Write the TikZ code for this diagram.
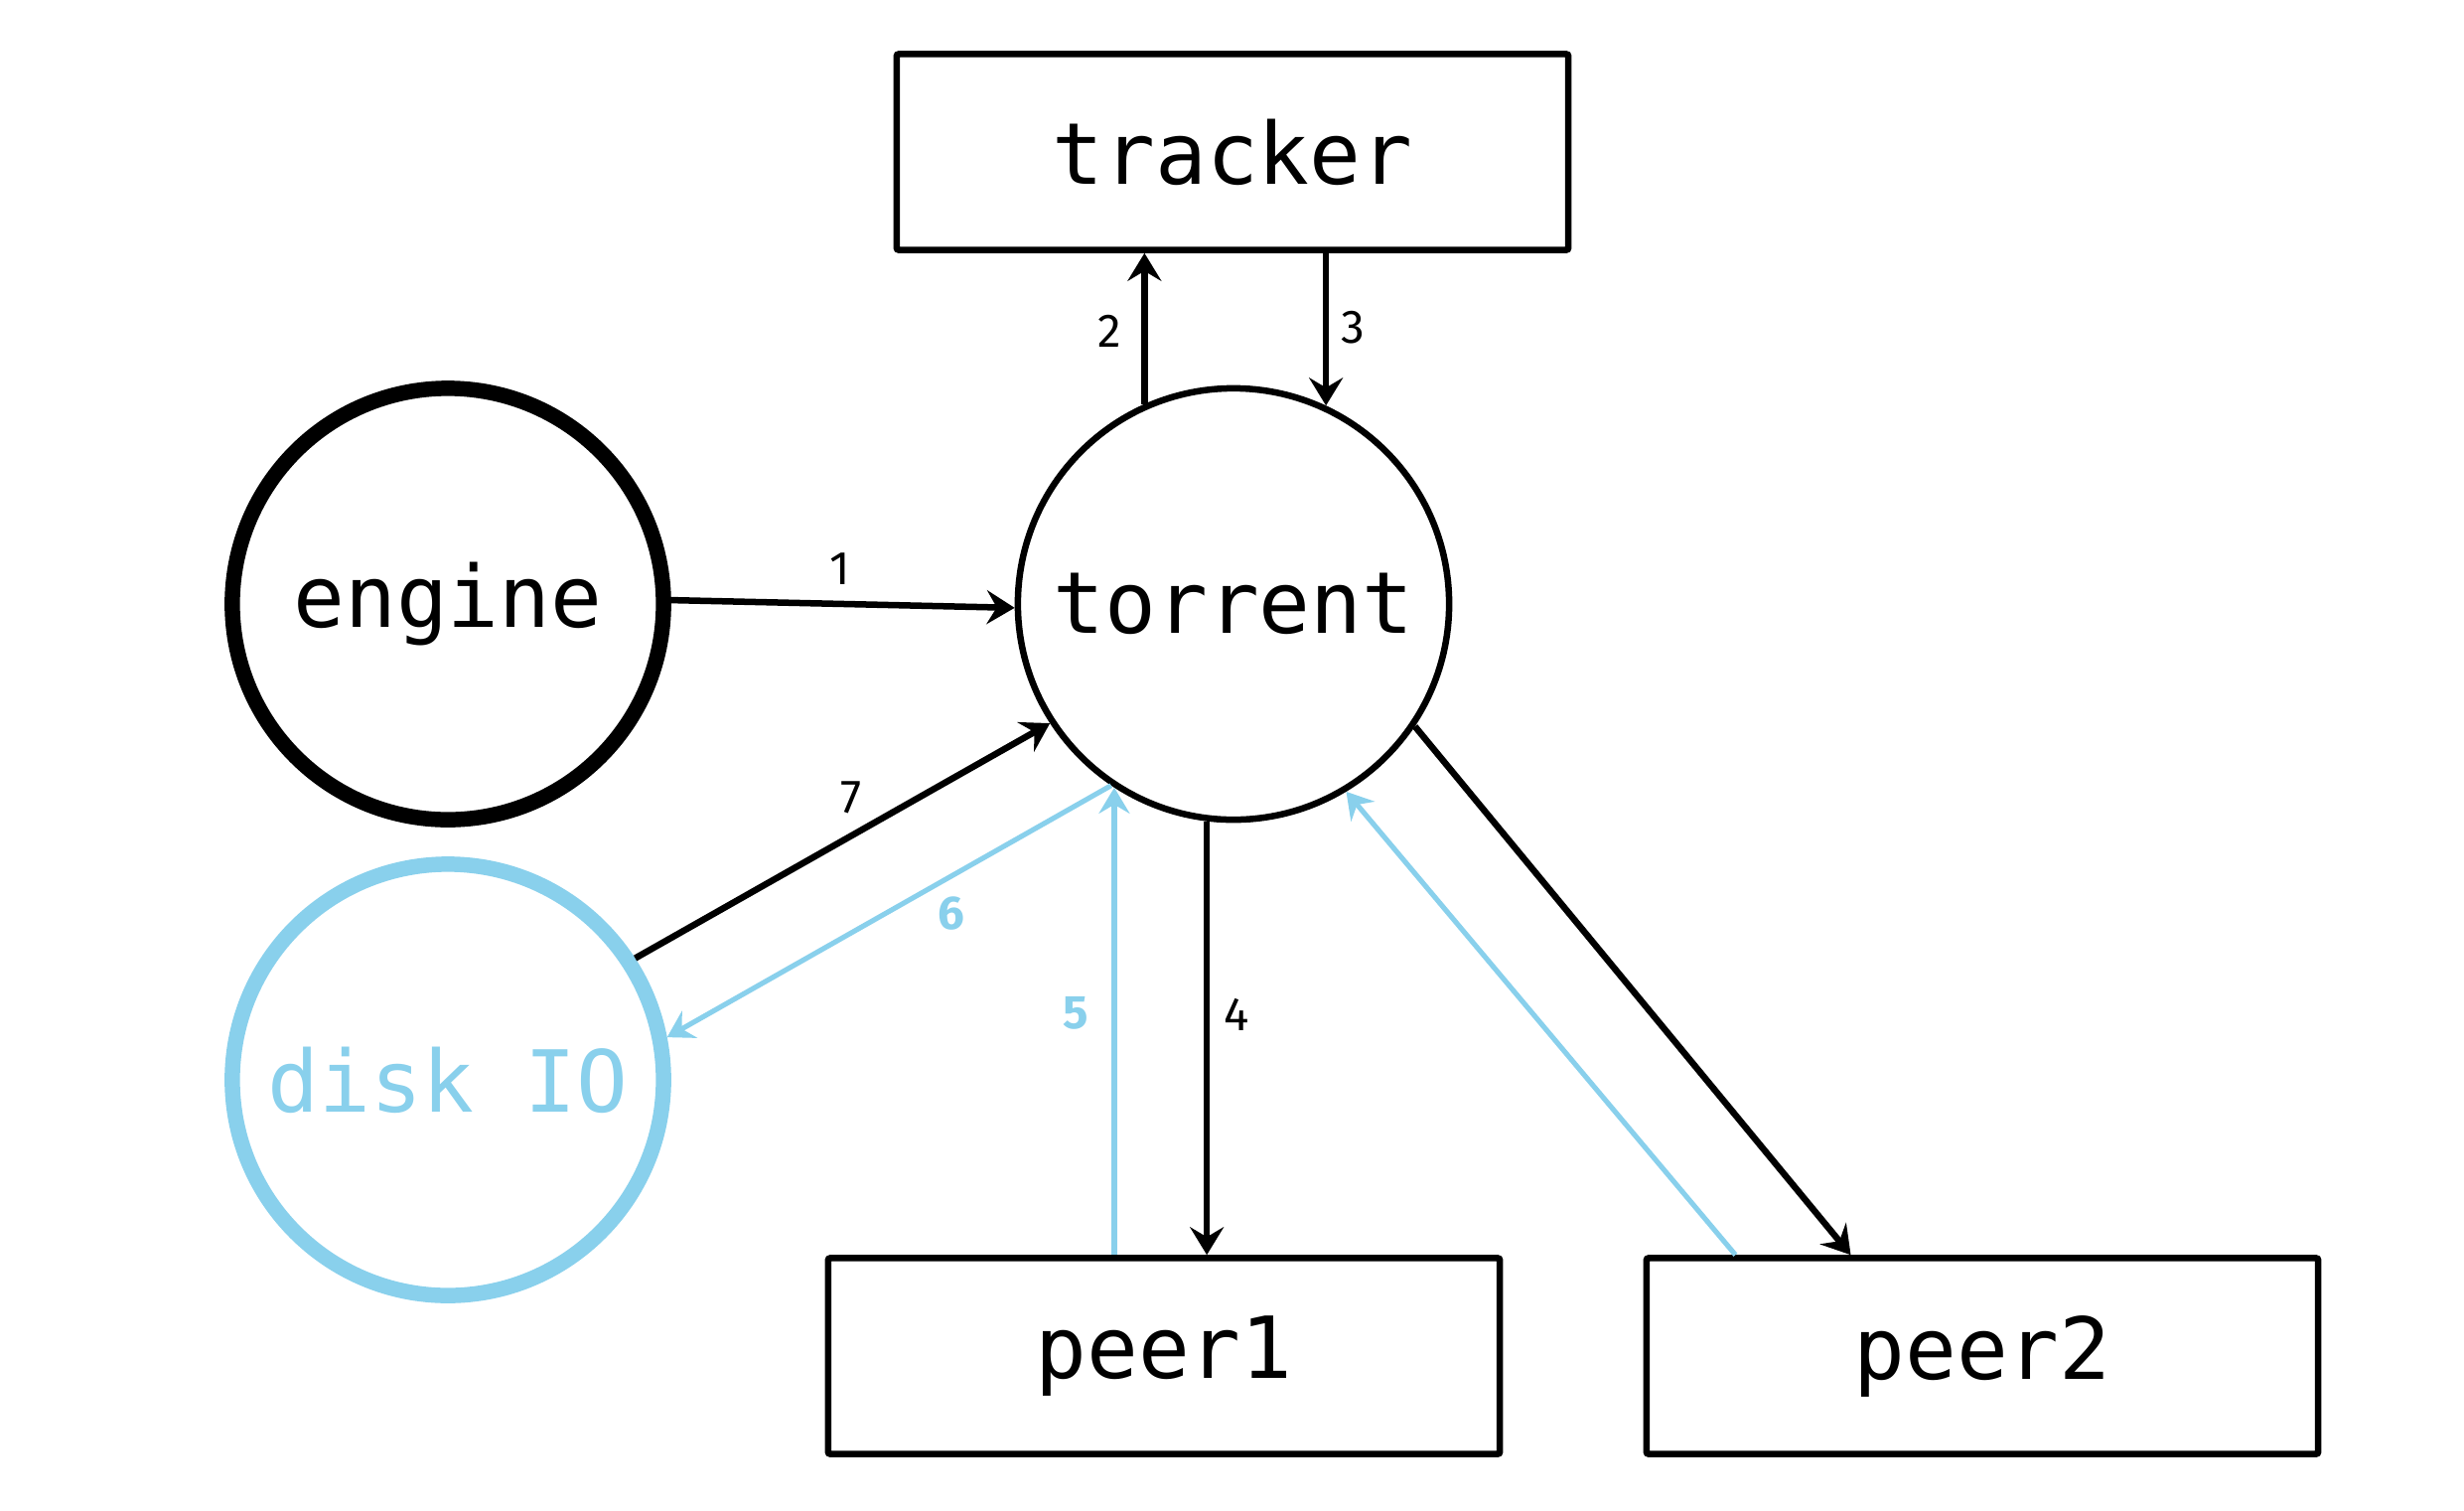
\documentclass[tikz,border=0pt]{standalone}
\usepackage{fontspec}
\setmonofont{DejaVu Sans Mono}
\newfontfamily\numfont{Fira Sans}
\usetikzlibrary{arrows.meta,calc}
\definecolor{diskblue}{RGB}{137,208,236}
\begin{document}
\begin{tikzpicture}[x=0.01cm,y=-0.01cm,
  every node/.style={inner sep=0pt},
  boxnode/.style={draw,line width=1.85pt,minimum width=6.76cm,minimum height=1.97cm,rounded corners=0.6pt,font=\ttfamily\fontsize{24.5}{30}\selectfont},
  circnode/.style={draw,circle,line width=1.85pt,minimum size=4.34cm,font=\ttfamily\fontsize{24.5}{30}\selectfont},
  thickcirc/.style={circnode,line width=4.4pt},
  blk/.style={line width=1.85pt,-{Stealth[length=0.28cm,width=0.34cm,inset=0.1cm]}},
  blu/.style={diskblue,line width=1.45pt,-{Stealth[length=0.26cm,width=0.31cm,inset=0.09cm]}},
  lab/.style={font=\numfont\fontsize{13.5}{15}\selectfont},
  blab/.style={lab,text=diskblue,font=\numfont\bfseries\fontsize{13.5}{15}\selectfont}
]
\useasboundingbox (0,0) rectangle (2481,1520);
\fill[white] (0,0) rectangle (2481,1520);

\node[boxnode] (tracker) at (1241,153) {tracker};
\node[boxnode] (peer1) at (1172,1365) {peer1};
\node[boxnode] (peer2) at (1996,1365) {peer2};
\node[circnode] (torrent) at (1242,608) {torrent};
\node[thickcirc] (engine) at (451,608) {engine};
\node[thickcirc,draw=diskblue,text=diskblue] (disk) at (451,1087) {disk IO};

% 1
\draw[blk] (engine.1) -- (torrent.181);
\node[lab] (l1) at (846,573) {1};
% 2
\draw[blk] (torrent.114) -- (torrent.114 |- tracker.south);
\node[lab] (l2) at (1117,333) {2};
% 3
\draw[blk] (torrent.65.5 |- tracker.south) -- (torrent.65.5);
\node[lab] (l3) at (1362,330) {3};
% 4
\draw[blk] (torrent.263.4) -- (torrent.263.4 |- peer1.north);
\node[lab] (l4) at (1245,1021) {4};
% 5
\draw[blu] (torrent.237.4 |- peer1.north) -- (torrent.237.4);
\node[blab] (l5) at (1083,1020) {5};
% 6
\draw[blu] (torrent.236.4) -- (disk.11.4);
\node[blab] (l6) at (958,920) {6};
% 7
\draw[blk] (disk.33.5) -- (torrent.213.3);
\node[lab] (l7) at (857,803) {7};
% peer2
\draw[blk] (torrent.326.2) -- ($(peer2.north west)!0.306!(peer2.north east)$);
\draw[blu] ($(peer2.north west)!0.136!(peer2.north east)$) -- (torrent.301.9);
\end{tikzpicture}
\end{document}
